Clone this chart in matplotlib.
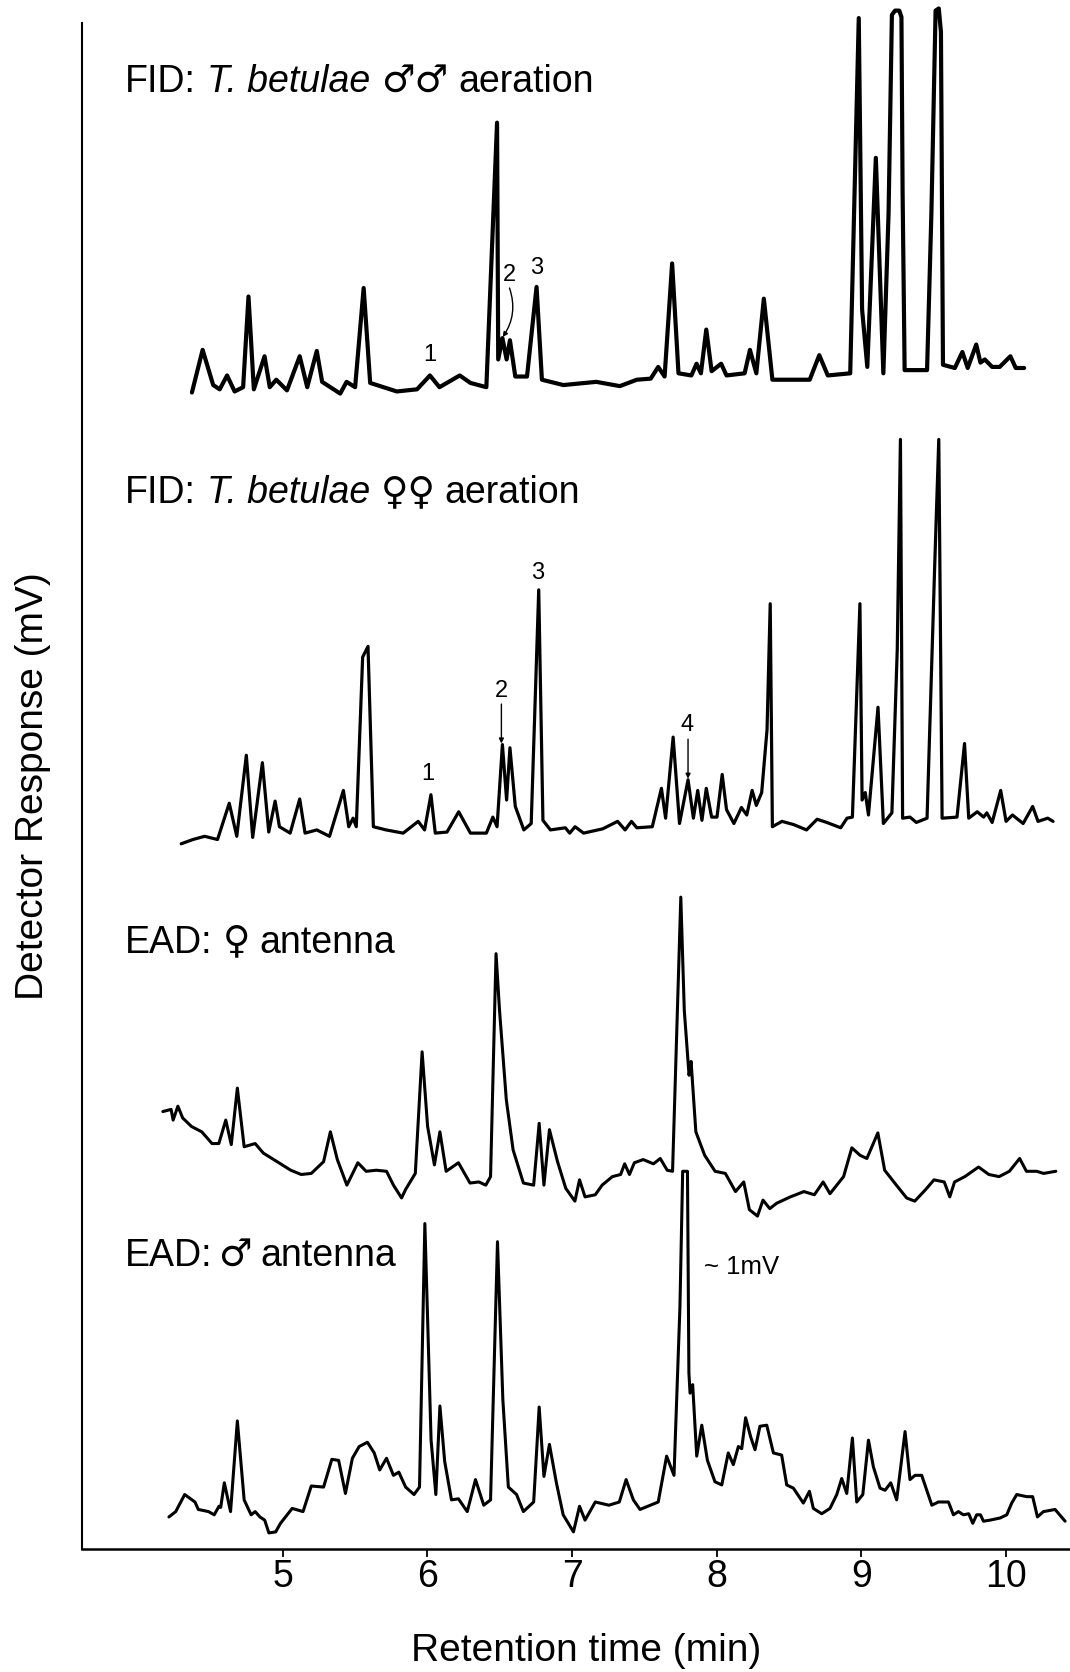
import matplotlib
matplotlib.use('Agg')
import matplotlib.pyplot as plt
from matplotlib import transforms

FONT = ['Liberation Sans', 'DejaVu Sans']
plt.rcParams['font.family'] = FONT

# ---------------- data (retention time in min, response in arbitrary units) ----------------
x_ticks = [5, 6, 7, 8, 9, 10]

# FID: T. betulae males
t_fid_m = [4.373, 4.447, 4.520, 4.565, 4.616, 4.668, 4.727, 4.764, 4.801, 4.875,
           4.911, 4.956, 5.030, 5.118, 5.170, 5.236, 5.273, 5.398, 5.442, 5.501,
           5.560, 5.605, 5.789, 5.929, 6.018, 6.084, 6.224, 6.298, 6.408, 6.482,
           6.490, 6.519, 6.548, 6.571, 6.608, 6.689, 6.755, 6.792, 6.940, 7.168,
           7.331, 7.448, 7.544, 7.596, 7.640, 7.692, 7.736, 7.825, 7.861, 7.891,
           7.928, 7.965, 8.031, 8.068, 8.193, 8.230, 8.274, 8.326, 8.385, 8.643,
           8.709, 8.768, 8.923, 8.982, 9.005, 9.041, 9.100, 9.152, 9.188, 9.211,
           9.233, 9.262, 9.277, 9.285, 9.299, 9.454, 9.484, 9.513, 9.535, 9.550,
           9.564, 9.646, 9.698, 9.735, 9.794, 9.823, 9.853, 9.904, 9.956, 10.030,
           10.067, 10.125]
r_fid_m = [2, 42, 9, 5, 18, 3, 7, 92, 5, 36,
           7, 14, 4, 36, 7, 41, 12, 1, 12, 7,
           100, 11, 3, 5, 18, 7, 18, 11, 7, 255,
           33, 53, 33, 51, 17, 17, 101, 14, 9, 12,
           8, 14, 15, 26, 17, 123, 20, 18, 29, 20,
           61, 22, 29, 18, 20, 42, 20, 90, 14, 14,
           37, 18, 20, 353, 80, 26, 222, 20, 170, 356,
           360, 360, 354, 190, 23, 23, 170, 360, 362, 340,
           28, 25, 40, 25, 47, 30, 33, 26, 26, 36,
           25, 25]

# FID: T. betulae females
t_fid_f = [4.299, 4.380, 4.461, 4.550, 4.631, 4.683, 4.749, 4.793, 4.860, 4.904,
           4.948, 4.978, 5.052, 5.118, 5.155, 5.236, 5.324, 5.420, 5.457, 5.487,
           5.509, 5.553, 5.590, 5.627, 5.715, 5.833, 5.937, 5.981, 6.025, 6.055,
           6.136, 6.217, 6.298, 6.408, 6.453, 6.482, 6.519, 6.548, 6.571, 6.608,
           6.667, 6.718, 6.770, 6.799, 6.851, 6.954, 6.984, 7.021, 7.080, 7.212,
           7.315, 7.367, 7.411, 7.448, 7.555, 7.618, 7.647, 7.699, 7.743, 7.802,
           7.839, 7.869, 7.898, 7.928, 7.965, 8.002, 8.038, 8.068, 8.119, 8.171,
           8.208, 8.245, 8.274, 8.311, 8.348, 8.370, 8.385, 8.451, 8.532, 8.621,
           8.694, 8.761, 8.857, 8.901, 8.938, 8.990, 9.005, 9.027, 9.049, 9.115,
           9.152, 9.211, 9.248, 9.270, 9.285, 9.336, 9.380, 9.454, 9.506, 9.535,
           9.558, 9.661, 9.713, 9.742, 9.801, 9.845, 9.867, 9.904, 9.963, 10.000,
           10.044, 10.118, 10.184, 10.221, 10.288, 10.325]
r_fid_f = [1, 5, 8, 5, 39, 8, 84, 7, 77, 12,
           41, 17, 11, 43, 11, 14, 8, 51, 17, 25,
           17, 176, 186, 17, 14, 11, 22, 14, 47, 11,
           12, 31, 11, 11, 26, 17, 94, 42, 91, 36,
           14, 20, 239, 23, 14, 16, 11, 17, 11, 15,
           22, 14, 22, 16, 17, 53, 25, 101, 20, 61,
           25, 51, 23, 53, 26, 26, 66, 33, 20, 35,
           28, 51, 37, 49, 108, 226, 17, 22, 19, 14,
           24, 21, 16, 25, 26, 226, 42, 49, 28, 129,
           20, 30, 183, 380, 25, 26, 21, 25, 258, 380,
           25, 26, 95, 25, 31, 26, 30, 21, 51, 22,
           28, 20, 36, 22, 25, 22]

# EAD: female antenna
t_ead_f = [4.172, 4.229, 4.243, 4.276, 4.309, 4.370, 4.441, 4.512, 4.559, 4.607,
           4.645, 4.687, 4.734, 4.810, 4.867, 4.962, 5.056, 5.128, 5.198, 5.283,
           5.330, 5.378, 5.444, 5.520, 5.577, 5.648, 5.718, 5.766, 5.822, 5.850,
           5.917, 5.964, 6.002, 6.049, 6.087, 6.130, 6.215, 6.295, 6.357, 6.404,
           6.437, 6.475, 6.499, 6.546, 6.593, 6.664, 6.735, 6.773, 6.806, 6.844,
           6.900, 6.957, 7.020, 7.052, 7.090, 7.161, 7.208, 7.279, 7.336, 7.364,
           7.397, 7.431, 7.492, 7.563, 7.610, 7.658, 7.695, 7.752, 7.776, 7.809,
           7.823, 7.856, 7.917, 7.989, 8.060, 8.130, 8.187, 8.226, 8.282, 8.320,
           8.367, 8.414, 8.509, 8.603, 8.675, 8.736, 8.783, 8.877, 8.934, 8.991,
           9.038, 9.114, 9.161, 9.242, 9.313, 9.369, 9.445, 9.502, 9.573, 9.611,
           9.644, 9.715, 9.810, 9.881, 9.952, 10.023, 10.094, 10.141, 10.212, 10.259,
           10.344]
r_ead_f = [99, 101, 91, 104, 93, 85, 80, 69, 69, 91,
           68, 121, 66, 69, 60, 52, 44, 40, 41, 52,
           80, 54, 30, 51, 43, 44, 43, 30, 18, 26,
           41, 155, 85, 49, 80, 43, 51, 32, 33, 30,
           38, 247, 194, 110, 63, 32, 30, 88, 30, 82,
           52, 27, 15, 35, 19, 21, 30, 38, 40, 50,
           40, 51, 54, 50, 55, 44, 43, 300, 194, 133,
           146, 80, 58, 43, 41, 24, 33, 7, 1, 16,
           8, 13, 19, 24, 21, 33, 22, 38, 65, 58,
           55, 79, 44, 30, 18, 15, 26, 35, 33, 19,
           33, 38, 47, 40, 38, 43, 55, 43, 43, 41,
           43]

# EAD: male antenna
t_ead_m = [4.214, 4.261, 4.323, 4.394, 4.417, 4.488, 4.527, 4.560, 4.572, 4.597,
           4.640, 4.687, 4.734, 4.782, 4.810, 4.843, 4.876, 4.905, 4.952, 4.985,
           5.066, 5.141, 5.198, 5.283, 5.340, 5.387, 5.434, 5.482, 5.529, 5.586,
           5.633, 5.671, 5.718, 5.766, 5.803, 5.850, 5.908, 5.946, 5.983, 6.026,
           6.059, 6.087, 6.120, 6.167, 6.215, 6.276, 6.333, 6.390, 6.437, 6.485,
           6.522, 6.560, 6.617, 6.664, 6.735, 6.773, 6.806, 6.844, 6.892, 6.939,
           7.010, 7.052, 7.090, 7.161, 7.255, 7.327, 7.374, 7.424, 7.470, 7.596,
           7.654, 7.705, 7.746, 7.765, 7.798, 7.808, 7.816, 7.834, 7.862, 7.897,
           7.936, 7.988, 8.035, 8.080, 8.115, 8.150, 8.173, 8.200, 8.235, 8.265,
           8.299, 8.346, 8.392, 8.449, 8.484, 8.530, 8.599, 8.641, 8.668, 8.726,
           8.783, 8.830, 8.864, 8.899, 8.938, 8.968, 9.010, 9.049, 9.083, 9.129,
           9.164, 9.203, 9.244, 9.302, 9.336, 9.371, 9.417, 9.487, 9.532, 9.602,
           9.636, 9.671, 9.705, 9.742, 9.770, 9.797, 9.823, 9.844, 9.889, 9.959,
           10.005, 10.039, 10.074, 10.143, 10.184, 10.217, 10.258, 10.339, 10.408]
r_ead_m = [16, 21, 37, 30, 23, 21, 18, 26, 25, 48,
           21, 106, 32, 18, 21, 16, 13, 1, 2, 10,
           24, 21, 45, 44, 70, 69, 38, 71, 82, 86,
           76, 60, 71, 55, 58, 44, 37, 44, 291, 88,
           37, 120, 68, 32, 33, 21, 51, 27, 32, 274,
           126, 44, 37, 21, 30, 119, 54, 84, 48, 18,
           2, 26, 13, 30, 27, 30, 51, 32, 23, 30,
           73, 55, 213, 340, 340, 151, 132, 140, 73, 102,
           69, 49, 46, 76, 65, 82, 80, 109, 91, 79,
           101, 102, 76, 74, 46, 43, 29, 40, 24, 19,
           24, 37, 52, 38, 90, 30, 37, 88, 63, 43,
           41, 48, 32, 96, 51, 55, 55, 27, 30, 30,
           18, 21, 18, 19, 10, 18, 18, 12, 13, 15,
           18, 29, 37, 35, 35, 16, 21, 23, 12]

# vertical offsets of the stacked traces
trace_offsets = [1082, 660, 311, 14]
trace_widths = [3.0, 2.3, 2.2, 2.2]

# ---------------- figure ----------------
fig = plt.figure(figsize=(10.70, 16.72), dpi=100)
ax = fig.add_axes([0.0766, 0.0736, 0.9234, 0.9124])
ax.set_xlim(3.613, 10.442)
ax.set_ylim(0, 1430)

series = [(t_fid_m, r_fid_m), (t_fid_f, r_fid_f), (t_ead_f, r_ead_f), (t_ead_m, r_ead_m)]
for (t, r), off, lw in zip(series, trace_offsets, trace_widths):
    ax.plot(t, [off + v for v in r], color='black', lw=lw, clip_on=False,
            solid_joinstyle='round', solid_capstyle='round')

for side in ['top', 'right']:
    ax.spines[side].set_visible(False)
ax.spines['left'].set_linewidth(1.5)
ax.spines['bottom'].set_linewidth(1.8)
ax.set_yticks([])
ax.set_xticks(x_ticks)
ax.set_xticklabels([str(v) for v in x_ticks])
ax.tick_params(axis='x', direction='out', length=6, width=1.3, pad=1,
               labelsize=27)

ax.set_ylabel('Detector Response (mV)', fontsize=28, labelpad=22)
fig.text(586 / 1070, 0.0065, 'Retention time (min)', ha='center', va='baseline',
         fontsize=28)

renderer = fig.canvas.get_renderer()
SYM = dict(family=['DejaVu Sans'], fontweight='bold', fontsize=27)


def rich_label(x, y, parts, size):
    dx = 0.0
    for s, style, gap in parts:
        tr = transforms.offset_copy(ax.transData, fig=fig, x=dx, y=0, units='dots')
        if style == 'sym':
            txt = ax.text(x, y, s, transform=tr, ha='left', va='baseline', **SYM)
        else:
            txt = ax.text(x, y, s, transform=tr, fontsize=size, fontstyle=style,
                          ha='left', va='baseline')
        dx += txt.get_window_extent(renderer).width + gap


LX = 3.908
rich_label(LX, 1366, [('FID:', 'normal', 11), ('T. betulae', 'italic', 11),
                      ('♂♂', 'sym', 10), ('aeration', 'normal', 0)], 27)
rich_label(LX, 980, [('FID:', 'normal', 11), ('T. betulae', 'italic', 11),
                     ('♀♀', 'sym', 9), ('aeration', 'normal', 0)], 27)
rich_label(LX, 559, [('EAD:', 'normal', 11), ('♀', 'sym', 9),
                     ('antenna', 'normal', 0)], 27)
rich_label(LX, 265, [('EAD:', 'normal', 6), ('♂', 'sym', 9),
                     ('antenna', 'normal', 0)], 27)

# peak numbers
num_size = 17
ax.text(6.018, 1119, '1', ha='center', va='center', fontsize=num_size)
ax.text(6.571, 1194, '2', ha='center', va='center', fontsize=num_size)
ax.text(6.755, 1201, '3', ha='center', va='center', fontsize=num_size)
ax.annotate('', xy=(6.521, 1136), xytext=(6.568, 1182),
            arrowprops=dict(arrowstyle='-|>', lw=1.0, color='black',
                            mutation_scale=7, shrinkA=0, shrinkB=0,
                            connectionstyle='arc3,rad=-0.25'))

ax.text(6.003, 726, '1', ha='center', va='center', fontsize=num_size)
ax.text(6.512, 804, '2', ha='center', va='center', fontsize=num_size)
ax.text(6.762, 915, '3', ha='center', va='center', fontsize=num_size)
ax.text(7.795, 772, '4', ha='center', va='center', fontsize=num_size)
for xa, y0, y1 in [(6.512, 792, 755), (7.802, 759, 722)]:
    ax.annotate('', xy=(xa, y1), xytext=(xa, y0),
                arrowprops=dict(arrowstyle='-|>', lw=1.0, color='black',
                                mutation_scale=7, shrinkA=0, shrinkB=0))

ax.text(7.913, 264, '~ 1mV', ha='left', va='center', fontsize=18.5)

fig.savefig('out.png', dpi=100, facecolor='white')
